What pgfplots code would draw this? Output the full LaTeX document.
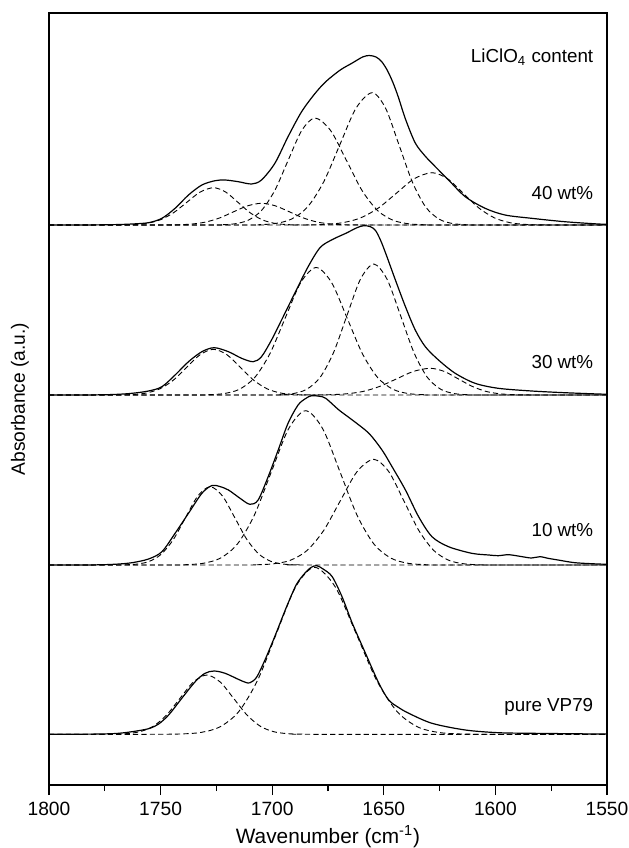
\documentclass[border=0pt]{standalone}
\usepackage{fontspec}
\setmainfont{Liberation Sans}
\usepackage{pgfplots}
\pgfplotsset{compat=1.18}
\pgfplotsset{off/.style={y filter/.expression={y+#1}}}
\tikzset{
  spec/.style={black, line width=0.6pt, smooth},
  fit/.style={black, line width=0.45pt, dash pattern=on 2.6pt off 1.6pt, smooth},
}
\begin{document}
\begin{tikzpicture}[font=\fontsize{9.4}{11.3}\selectfont]
\begin{axis}[
  scale only axis, width=279pt, height=386pt,
  x dir=reverse, xmin=1550, xmax=1800, ymin=0, ymax=772,
  xtick={1550,1600,...,1800}, minor xtick={1575,1625,...,1775},
  ytick=\empty, xtick pos=lower,
  tick align=outside, major tick length=5pt, minor tick length=3pt,
  /pgf/number format/assume math mode=true,
  /pgf/number format/set thousands separator={},
  xticklabel style={font=\fontsize{9.6}{11.5}\selectfont},
  xlabel={Wavenumber (cm\textsuperscript{-1})},
  ylabel={Absorbance (a.u.)},
  xlabel style={at={(axis description cs:0.5,-0.067)}, anchor=center, font=\fontsize{10.4}{12}\selectfont},
  ylabel style={at={(axis description cs:-0.052,0.5)}, anchor=center, font=\fontsize{9.6}{11.5}\selectfont},
  axis line style={line width=0.6pt},
  every tick/.style={black, line width=0.6pt},
]
% ---------------- pure VP79 (baseline 50.7) ----------------
\addplot[spec, off=50.7] coordinates {(1800,0) (1780,0.2) (1770,0.8) (1762.8,2.6) (1755.4,5.6) (1750.9,10.3) (1746.4,19.3) (1740.5,36) (1734.5,52.6) (1730.1,61) (1726,63.3) (1721.1,61) (1715.2,55) (1712,52) (1710,51.5) (1707,57) (1703.3,74) (1698.8,98) (1695.8,115) (1692.9,131) (1689.1,150) (1685.4,161) (1682.5,167) (1680,168.6) (1677,165) (1673.1,157.6) (1668.6,137) (1664.1,111) (1658.2,81) (1652.2,51) (1647.8,34.3) (1643.5,27) (1638.8,21) (1628.4,11) (1613.5,4.3) (1598.7,1.6) (1583.8,1) (1554,0.3) (1550,0.3)};
\addplot[fit, off=50.7] coordinates {(1800,0) (1777.3,0) (1771.3,0.13) (1765.3,0.66) (1759.3,2.6) (1753.3,8.0) (1747.3,19.3) (1741.3,36.0) (1735.3,52.3) (1729.3,59.3) (1723.3,52.3) (1717.3,36.0) (1711.3,19.3) (1705.3,8.0) (1699.3,2.6) (1693.3,0.66) (1687.3,0.13) (1681.3,0) (1550,0)};
\addplot[fit, off=50.7] coordinates {(1800,0) (1757.5,0) (1749,0.05) (1740.5,0.37) (1732,1.85) (1723.5,7.3) (1715,22.6) (1706.5,54.2) (1698,101.3) (1689.5,147.4) (1681,167) (1671.75,147.4) (1662.5,101.3) (1653.25,54.2) (1644,22.6) (1634.75,7.3) (1625.5,1.85) (1616.25,0.37) (1607,0.05) (1597.75,0) (1550,0)};
% ---------------- 10 wt% (baseline 220) ----------------
\addplot[spec, off=220] coordinates {(1800,0) (1780,0.1) (1770,0.8) (1762.8,2.3) (1755.4,6) (1749.4,13.3) (1743.5,31.7) (1737.5,51.7) (1731.5,71.7) (1727,79.5) (1723.5,78.5) (1719.6,75) (1714.4,66.7) (1710,60.7) (1706.3,65) (1701.8,88.3) (1697.3,115) (1692.9,141.7) (1688.4,160) (1685,166.5) (1682.4,169.3) (1679,168.8) (1676,166.7) (1670.1,155) (1664.1,145) (1656.7,131.7) (1650.8,115) (1646.3,98.3) (1640.3,75) (1634.4,48.3) (1628.4,28.3) (1621,18.3) (1610.6,11.7) (1603,10) (1598.7,9.3) (1594,10.3) (1588,8.3) (1583.8,7) (1580,8.3) (1576,6.5) (1571.9,5) (1564.4,2.3) (1554,1) (1550,0.8)};
\addplot[fit, off=220] coordinates {(1800,0) (1772,0) (1766.3,0.17) (1760.8,0.87) (1755.3,3.4) (1749.8,10.6) (1744.3,25.4) (1738.8,47.5) (1733.3,69.1) (1727.8,78.3) (1722.3,69.1) (1716.8,47.5) (1711.3,25.4) (1705.8,10.6) (1700.3,3.4) (1694.8,0.87) (1689.3,0.17) (1683.5,0) (1550,0)};
\addplot[fit, off=220] coordinates {(1800,0) (1746,0) (1738.55,0.34) (1730.9,1.7) (1723.25,6.8) (1715.6,20.9) (1707.95,50.1) (1700.3,93.6) (1692.65,136.2) (1685,154.3) (1677.35,136.2) (1669.7,93.6) (1662.05,50.1) (1654.4,20.9) (1646.75,6.8) (1639.1,1.7) (1631.45,0.34) (1624,0) (1550,0)};
\addplot[fit, off=220] coordinates {(1800,0) (1714.5,0.03) (1707,0.23) (1699.5,1.17) (1692,4.6) (1684.5,14.3) (1677,34.3) (1669.5,64.1) (1662,93.3) (1654.5,105.7) (1647.75,93.3) (1641,64.1) (1634.25,34.3) (1627.5,14.3) (1620.75,4.6) (1614,1.17) (1607.25,0.23) (1600.5,0.03) (1550,0)};
% ---------------- 30 wt% (baseline 390) ----------------
\addplot[spec, off=390] coordinates {(1800,0) (1780,0.1) (1770,0.6) (1762.8,1.7) (1755.4,4) (1749.4,8.3) (1743.5,20) (1737.5,33.3) (1731.5,43.3) (1726,47.3) (1719.6,43.3) (1713.7,36.7) (1708.5,33.3) (1704.8,38.3) (1700.3,55) (1695.8,75) (1689.9,101.7) (1683.9,128.3) (1678.5,147.5) (1673,155.5) (1667,161.7) (1662,167.3) (1659,169.3) (1656,168.3) (1653.7,164.5) (1651.5,155) (1649.2,142) (1644.8,115) (1640.3,88.3) (1635.9,65) (1631.4,48.3) (1625.5,35) (1618,21.7) (1609.1,11.7) (1598.7,6.7) (1583.8,4) (1569,2.3) (1554,1) (1550,0.8)};
\addplot[fit, off=390] coordinates {(1800,0) (1774.3,0) (1768.3,0.1) (1762.3,0.5) (1756.3,2.0) (1750.3,6.2) (1744.3,14.8) (1738.3,27.7) (1732.3,40.3) (1726.3,45.7) (1720.3,40.3) (1714.3,27.7) (1708.3,14.8) (1702.3,6.2) (1696.3,2.0) (1690.3,0.5) (1684.3,0.1) (1678.3,0) (1550,0)};
\addplot[fit, off=390] coordinates {(1800,0) (1735.5,0) (1728.6,0.28) (1721.7,1.4) (1714.8,5.6) (1707.9,17.3) (1701,41.4) (1694.1,77.3) (1687.2,112.5) (1680.3,127.5) (1673.4,112.5) (1666.5,77.3) (1659.6,41.4) (1652.7,17.3) (1645.8,5.6) (1638.9,1.4) (1632,0.28) (1625.1,0) (1550,0)};
\addplot[fit, off=390] coordinates {(1800,0) (1702.5,0) (1696.5,0.29) (1690.5,1.45) (1684.5,5.75) (1678.5,17.7) (1672.5,42.5) (1666.5,79.5) (1660.5,115.6) (1654.5,131) (1648.5,115.6) (1642.5,79.5) (1636.5,42.5) (1630.5,17.7) (1624.5,5.75) (1618.5,1.45) (1612.5,0.29) (1606.5,0) (1550,0)};
\addplot[fit, off=390] coordinates {(1800,0) (1689.2,0) (1681.7,0.06) (1674.2,0.3) (1666.7,1.2) (1659.2,3.6) (1651.7,8.7) (1644.2,16.2) (1636.7,23.6) (1629.2,26.7) (1622.95,23.6) (1616.7,16.2) (1610.45,8.7) (1604.2,3.6) (1597.95,1.2) (1591.7,0.3) (1585.45,0.06) (1579.2,0) (1550,0)};
% ---------------- 40 wt% (baseline 560) ----------------
\addplot[spec, off=560] coordinates {(1800,0) (1780,0.1) (1770,0.4) (1762.8,1) (1755.4,2.3) (1749.4,6.7) (1743.5,16.7) (1737.5,30) (1731.5,40) (1725.6,44.3) (1721.1,45) (1715.2,43.3) (1709.2,41) (1704.8,45) (1698.8,61.7) (1692.9,88.3) (1686.9,113) (1681,131) (1676,143.3) (1669.5,155) (1664.1,162) (1659.5,168) (1656.5,169.5) (1653.5,168) (1651,163.5) (1648.5,155) (1646,143) (1643.5,128) (1640.3,106) (1635.9,82) (1631.5,69) (1628.4,61.7) (1621,45) (1613.5,28.3) (1604.6,16.7) (1595.7,10) (1583.8,6.7) (1569,3.3) (1554,1) (1550,0.8)};
\addplot[fit, off=560] coordinates {(1800,0) (1774.3,0) (1768.3,0.08) (1762.3,0.41) (1756.3,1.64) (1750.3,5.05) (1744.3,12.1) (1738.3,22.6) (1732.3,32.9) (1726.3,37.3) (1720.8,32.9) (1715.3,22.6) (1709.8,12.1) (1704.3,5.05) (1698.8,1.64) (1693.3,0.41) (1687.8,0.08) (1682.3,0) (1550,0)};
\addplot[fit, off=560] coordinates {(1800,0) (1754.8,0) (1748.55,0.05) (1742.3,0.24) (1736.05,0.95) (1729.8,2.94) (1723.55,7.05) (1717.3,13.2) (1711.05,19.15) (1704.8,21.7) (1698.55,19.15) (1692.3,13.2) (1686.05,7.05) (1679.8,2.94) (1673.55,0.95) (1667.3,0.24) (1661.05,0.05) (1654.8,0) (1550,0)};
\addplot[fit, off=560] coordinates {(1800,0) (1728.8,0) (1722.8,0.24) (1716.8,1.19) (1710.8,4.7) (1704.8,14.5) (1698.8,34.7) (1692.8,64.9) (1686.8,94.4) (1680.8,107) (1673.8,94.4) (1666.8,64.9) (1659.8,34.7) (1652.8,14.5) (1645.8,4.7) (1638.8,1.19) (1631.8,0.24) (1624.8,0) (1550,0)};
\addplot[fit, off=560] coordinates {(1800,0) (1713.2,0) (1705.95,0.29) (1698.7,1.47) (1691.45,5.8) (1684.2,17.9) (1676.95,43) (1669.7,80.2) (1662.45,116.8) (1655.2,132.3) (1649.2,116.8) (1643.2,80.2) (1637.2,43) (1631.2,17.9) (1625.2,5.8) (1619.2,1.47) (1613.2,0.29) (1607.2,0) (1550,0)};
\addplot[fit, off=560] coordinates {(1800,0) (1692.4,0) (1684.4,0.12) (1676.4,0.58) (1668.4,2.3) (1660.4,7.1) (1652.4,17) (1644.4,31.7) (1636.4,46.2) (1628.4,52.3) (1621.4,46.2) (1614.4,31.7) (1607.4,17) (1600.4,7.1) (1593.4,2.3) (1586.4,0.58) (1579.4,0.12) (1572.4,0) (1550,0)};
% ---------------- labels ----------------
\node[anchor=east, inner sep=0pt] at (axis cs:1556,728) {LiClO\textsubscript{4} content};
\node[anchor=east, inner sep=0pt] at (axis cs:1556,592) {40 wt\%};
\node[anchor=east, inner sep=0pt] at (axis cs:1556,423) {30 wt\%};
\node[anchor=east, inner sep=0pt] at (axis cs:1556,255) {10 wt\%};
\node[anchor=east, inner sep=0pt] at (axis cs:1556,78) {pure VP79};
\end{axis}
\pgfresetboundingbox
\path[use as bounding box] ([shift={(-24.5pt,-31.5pt)}]current axis.south west) rectangle ([shift={(11pt,6.5pt)}]current axis.north east);
\end{tikzpicture}
\end{document}
